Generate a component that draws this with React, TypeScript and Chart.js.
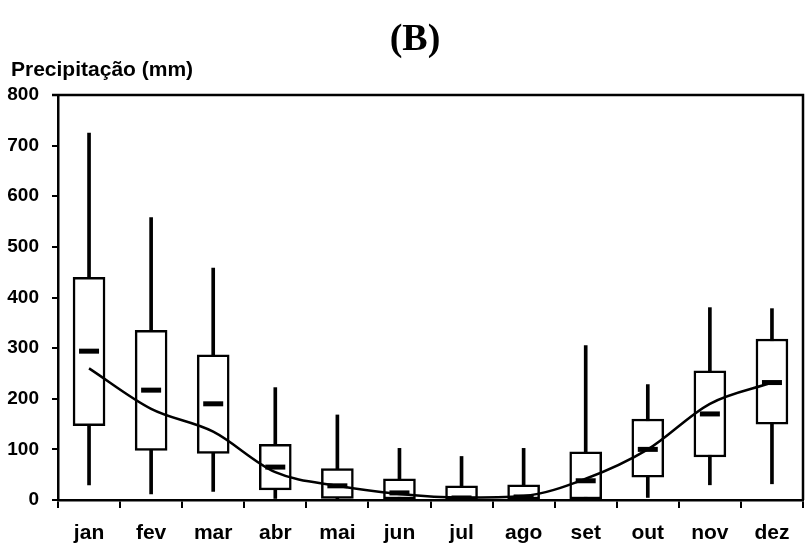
import React, { useEffect, useRef } from "react";
import { Chart, registerables } from "chart.js";

Chart.register(...registerables);

const months = ["jan", "fev", "mar", "abr", "mai", "jun", "jul", "ago", "set", "out", "nov", "dez"];
const whiskerMin = [30, 12, 17, 3, 0, 0, 0, 0, 0, 5, 30, 32];
const whiskerMax = [725, 558, 458, 222, 168, 102, 86, 102, 305, 228, 380, 378];
const boxQ1 = [147, 98, 92, 20, 3, 0, 0, 0, 0, 45, 85, 150];
const boxQ3 = [440, 335, 287, 110, 62, 42, 28, 30, 95, 160, 255, 318];
const medians = [294, 217, 190, 65, 28, 14, 4, 6, 38, 100, 170, 232];
const means = [260, 180, 135, 55, 28, 12, 5, 8, 42, 100, 190, 232];
const yTicks = [0, 100, 200, 300, 400, 500, 600, 700, 800];
const titleText = "(B)";
const yAxisTitle = "Precipitação (mm)";

const sans = "'Liberation Sans', Arial, sans-serif";

const framePlugin = {
  id: "frame",
  afterDatasetsDraw(chart: any) {
    const { ctx, chartArea } = chart;
    ctx.save();
    ctx.strokeStyle = "#000";
    ctx.lineWidth = 2.5;
    ctx.beginPath();
    ctx.moveTo(chartArea.left - 6, chartArea.top);
    ctx.lineTo(chartArea.right, chartArea.top);
    ctx.lineTo(chartArea.right, chartArea.bottom);
    ctx.stroke();
    ctx.restore();
  },
  afterDraw(chart: any) {
    const { ctx } = chart;
    ctx.save();
    ctx.fillStyle = "#000";
    ctx.textAlign = "center";
    ctx.textBaseline = "alphabetic";
    ctx.font = "bold 38px 'Liberation Serif', serif";
    ctx.fillText(titleText, 415, 50);
    ctx.textAlign = "left";
    ctx.font = `bold 21px ${sans}`;
    ctx.fillText(yAxisTitle, 11, 76);
    ctx.restore();
  },
};

export default function App() {
  const ref = useRef<HTMLCanvasElement>(null);
  useEffect(() => {
    document.body.style.margin = "0";
    document.body.style.overflow = "hidden";
    const chart = new Chart(ref.current!, {
      type: "bar",
      data: {
        labels: months,
        datasets: [
          {
            type: "bar",
            label: "whisker",
            data: months.map((_, i) => [whiskerMin[i], whiskerMax[i]]),
            backgroundColor: "#000",
            borderWidth: 0,
            barThickness: 3,
            grouped: false,
            order: 4,
          } as any,
          {
            type: "bar",
            label: "box",
            data: months.map((_, i) => [boxQ1[i], boxQ3[i]]),
            backgroundColor: "#fff",
            borderColor: "#000",
            borderWidth: 2.5,
            borderSkipped: false,
            barThickness: 32,
            grouped: false,
            order: 3,
          } as any,
          {
            type: "line",
            label: "mean",
            data: means,
            borderColor: "#000",
            borderWidth: 2.5,
            pointRadius: 0,
            cubicInterpolationMode: "monotone",
            fill: false,
            order: 2,
          } as any,
          {
            type: "line",
            label: "median",
            data: medians,
            showLine: false,
            pointStyle: "line",
            pointRadius: 10,
            pointHoverRadius: 10,
            pointBorderWidth: 5,
            pointBorderColor: "#000",
            borderColor: "#000",
            order: 1,
          } as any,
        ],
      },
      options: {
        animation: false,
        responsive: false,
        maintainAspectRatio: false,
        layout: { autoPadding: false, padding: { left: 4, right: 3, top: 95, bottom: 0 } },
        plugins: {
          legend: { display: false },
          tooltip: { enabled: false },
          title: { display: false },
        },
        scales: {
          x: {
            offset: true,
            grid: {
              display: true,
              offset: true,
              drawOnChartArea: false,
              drawTicks: true,
              tickLength: 8,
              color: "#000",
              lineWidth: 2,
            },
            border: { display: true, color: "#000", width: 2.5 },
            ticks: {
              color: "#000",
              padding: 13,
              font: { family: sans, size: 21, weight: "bold" },
            },
            afterFit: (s: any) => {
              s.height = 54;
              s.paddingRight = 0;
              s.paddingLeft = 0;
            },
          },
          y: {
            min: 0,
            max: 800,
            afterBuildTicks: (s: any) => {
              s.ticks = yTicks.map((v) => ({ value: v }));
            },
            grid: {
              display: true,
              drawOnChartArea: false,
              drawTicks: true,
              tickLength: 6,
              color: "#000",
              lineWidth: 2,
            },
            border: { display: true, color: "#000", width: 2.5 },
            ticks: {
              color: "#000",
              padding: 13,
              font: { family: sans, size: 19, weight: "bold" },
            },
            afterFit: (s: any) => {
              s.width = 54;
              s.paddingTop = 0;
              s.paddingBottom = 0;
            },
          },
        },
      },
      plugins: [framePlugin],
    } as any);
    return () => chart.destroy();
  }, []);
  return (
    <div
      style={{
        position: "absolute",
        left: 0,
        top: 0,
        width: 806,
        height: 554,
        overflow: "hidden",
        background: "#fff",
      }}
    >
      <canvas ref={ref} width={806} height={554} style={{ display: "block" }} />
    </div>
  );
}
